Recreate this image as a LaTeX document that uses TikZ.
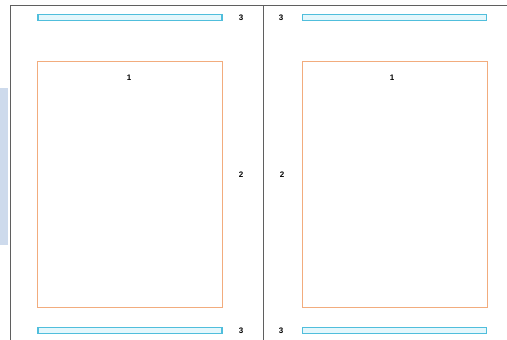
\documentclass[tikz,border=0pt]{standalone}
\usepackage{fontspec}
\setmainfont{Liberation Sans}
\definecolor{barline}{RGB}{80,190,220}
\definecolor{barfill}{RGB}{228,247,252}
\definecolor{pageorange}{RGB}{242,172,125}
\definecolor{frameline}{RGB}{95,95,95}
\definecolor{sidestrip}{RGB}{205,218,236}
\tikzset{
  bar/.style={draw=barline, fill=barfill, line width=1.2pt, rectangle, inner sep=0pt, minimum width=184pt, minimum height=6pt},
  page/.style={draw=pageorange, line width=0.8pt, rectangle, inner sep=0pt, minimum width=185pt, minimum height=246pt},
  num/.style={font=\bfseries\fontsize{8}{9}\selectfont, inner sep=1pt},
  frame/.style={draw=frameline, line width=0.8pt}
}
\begin{document}
\begin{tikzpicture}[x=1pt,y=-1pt]
\useasboundingbox (0,0) rectangle (507,340);
\fill[sidestrip] (0,88) rectangle (8,245);
\coordinate (tl) at (10.5,5);
\coordinate (tr) at (507,5);
\coordinate (bl) at (10.5,340);
\coordinate (mt) at (263,5);
\coordinate (mb) at (263,340);
\draw[frame] (bl) -- (tl) -- (tr);
\draw[frame] (mt) -- (mb);
% left page
\node[bar] (lbt) at (130,17.5) {};
\node[bar] (lbb) at (130,330.5) {};
\node[page] (lp) at (129.5,184) {};
\node[num] (l1) at (129,78) {1};
\node[num] (l2) at (241,175) {2};
\node[num] (l3t) at (241,17.5) {3};
\node[num] (l3b) at (241,330.5) {3};
% right page
\node[bar] (rbt) at (394.5,17.5) {};
\node[bar] (rbb) at (394.5,330.5) {};
\node[page] (rp) at (394.5,184) {};
\node[num] (r1) at (392,78) {1};
\node[num] (r2) at (282,175) {2};
\node[num] (r3t) at (281,17.5) {3};
\node[num] (r3b) at (281,330.5) {3};
\end{tikzpicture}
\end{document}
